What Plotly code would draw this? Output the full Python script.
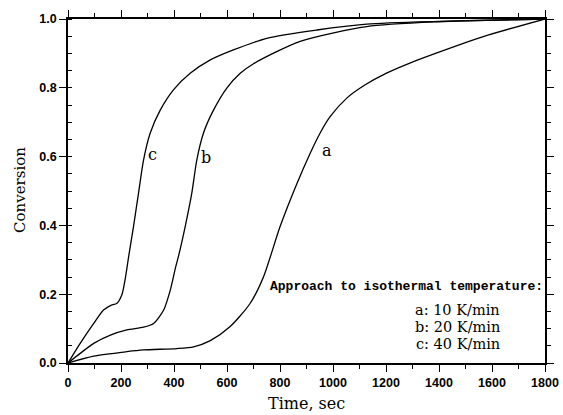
import plotly.graph_objects as go

# Curve c (40 K/min)
time_c = [0, 46, 97, 134, 160, 185, 204, 216, 229, 247, 266, 285, 310, 348, 398, 461, 537, 624, 750, 939, 1127, 1400, 1800]
conv_c = [0, 0.057, 0.115, 0.154, 0.167, 0.174, 0.2, 0.245, 0.31, 0.396, 0.493, 0.59, 0.668, 0.735, 0.794, 0.842, 0.881, 0.91, 0.944, 0.968, 0.985, 0.993, 1.0]

# Curve b (20 K/min)
time_b = [0, 46, 97, 160, 222, 285, 323, 361, 386, 405, 420, 442, 467, 486, 511, 549, 600, 650, 700, 876, 1127, 1400, 1800]
conv_b = [0, 0.028, 0.057, 0.081, 0.096, 0.104, 0.115, 0.154, 0.212, 0.275, 0.32, 0.396, 0.493, 0.59, 0.668, 0.735, 0.8, 0.842, 0.87, 0.935, 0.978, 0.992, 1.0]

# Curve a (10 K/min)
time_a = [0, 97, 222, 285, 411, 474, 537, 612, 687, 738, 800, 864, 914, 951, 989, 1052, 1120, 1200, 1290, 1379, 1567, 1800]
conv_a = [0, 0.02, 0.033, 0.038, 0.042, 0.047, 0.065, 0.106, 0.173, 0.251, 0.396, 0.522, 0.61, 0.668, 0.716, 0.77, 0.808, 0.842, 0.872, 0.898, 0.949, 1.0]

x_ticks = [0, 200, 400, 600, 800, 1000, 1200, 1400, 1600, 1800]
y_ticks = [0.0, 0.2, 0.4, 0.6, 0.8, 1.0]

curve_labels = ["a", "b", "c"]
curve_label_x = [979, 522, 319]
curve_label_y = [0.619, 0.598, 0.605]

legend_title = "Approach to isothermal temperature:"
legend_lines = ["a: 10 K/min", "b: 20 K/min", "c: 40 K/min"]
legend_y = [0.155, 0.105, 0.055]

fig = go.Figure()
for t, c in [(time_a, conv_a), (time_b, conv_b), (time_c, conv_c)]:
    fig.add_trace(go.Scatter(x=t, y=c, mode="lines",
                             line=dict(color="black", width=1.3, shape="spline", smoothing=0.7),
                             hoverinfo="skip", showlegend=False))
# invisible trace to anchor mirrored right axis
fig.add_trace(go.Scatter(x=time_a, y=conv_a, yaxis="y2", mode="lines",
                         line=dict(color="rgba(0,0,0,0)", width=0), hoverinfo="skip", showlegend=False))

tickfont = dict(family="Liberation Sans", size=12.5, color="black", weight="bold")

fig.update_layout(
    width=563, height=415,
    margin=dict(l=68, r=18, t=19, b=52),
    paper_bgcolor="white", plot_bgcolor="white",
    xaxis=dict(range=[0, 1800], tickvals=x_ticks, ticktext=[str(v) for v in x_ticks],
               automargin=False,
               showgrid=False, zeroline=False, showline=True, linecolor="black", linewidth=1.5,
               mirror="ticks", ticks="outside", ticklen=7, tickwidth=1.2, tickcolor="black",
               minor=dict(dtick=100, ticks="outside", ticklen=4, tickwidth=1.1, tickcolor="black"),
               tickfont=tickfont),
    yaxis=dict(range=[0, 1.0], tickvals=y_ticks, ticktext=["%.1f" % v for v in y_ticks],
               automargin=False,
               showgrid=False, zeroline=False, showline=True, linecolor="black", linewidth=1.5,
               ticks="outside", ticklen=7, tickwidth=1.2, tickcolor="black",
               minor=dict(dtick=0.05, ticks="inside", ticklen=4, tickwidth=1.1, tickcolor="black"),
               tickfont=tickfont),
    yaxis2=dict(range=[0, 1.0], overlaying="y", side="right", tickvals=y_ticks,
                automargin=False,
                showticklabels=False, showgrid=False, zeroline=False, showline=True,
                linecolor="black", linewidth=1.5,
                ticks="outside", ticklen=7, tickwidth=1.2, tickcolor="black",
                minor=dict(dtick=0.05, ticks="outside", ticklen=4, tickwidth=1.1, tickcolor="black")),
)

serif = "DejaVu Serif"
for lab, lx, ly in zip(curve_labels, curve_label_x, curve_label_y):
    fig.add_annotation(x=lx, y=ly, text=lab, showarrow=False,
                       font=dict(family=serif, size=16, color="black"),
                       xanchor="center", yanchor="middle")

fig.add_annotation(x=756, y=0.221, text=legend_title, showarrow=False,
                   font=dict(family="Liberation Mono", size=13, color="black", weight="bold"),
                   xanchor="left", yanchor="middle")
for line, ly in zip(legend_lines, legend_y):
    fig.add_annotation(x=1639, y=ly, text=line, showarrow=False,
                       font=dict(family=serif, size=14.5, color="black"),
                       xanchor="right", yanchor="middle")

# axis titles
fig.add_annotation(x=(20 - 68) / 477, y=(363 - 190) / 344, xref="paper", yref="paper",
                   text="Conversion", textangle=-90, showarrow=False,
                   font=dict(family=serif, size=15, color="black"),
                   xanchor="center", yanchor="middle")
fig.add_annotation(x=(306 - 68) / 477, y=(363 - 403) / 344, xref="paper", yref="paper",
                   text="Time, sec", showarrow=False,
                   font=dict(family=serif, size=16, color="black"),
                   xanchor="center", yanchor="middle")

fig.write_html("out.html")
